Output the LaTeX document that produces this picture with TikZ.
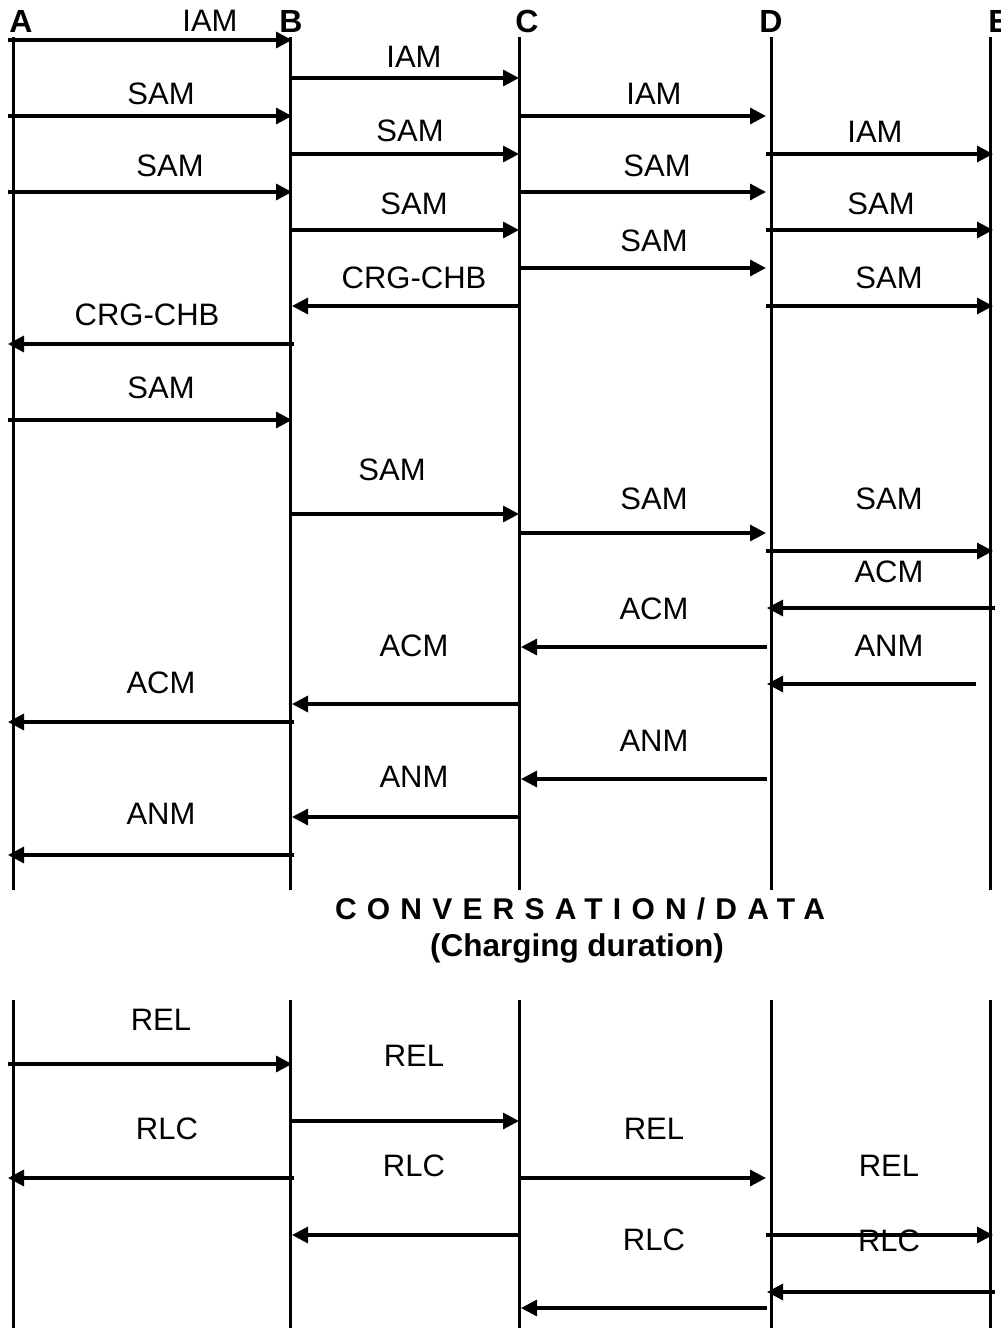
\documentclass[tikz,border=0pt]{standalone}
\usepackage{fontspec}
\setmainfont{Liberation Sans}
\usetikzlibrary{arrows.meta}
\tikzset{
  life/.style={line width=3pt},
  msgarrow/.style={line width=3.2pt, -{Triangle[length=16pt,width=16pt]}},
  lbl/.style={inner sep=0pt, font=\fontsize{31}{36}\selectfont},
  hdr/.style={inner sep=0pt, font=\fontsize{32}{36}\selectfont\bfseries},
  conv/.style={inner sep=0pt, anchor=base},
}
\newcommand\msg[7]{%
  \coordinate (#1s) at (#3,#2);
  \coordinate (#1e) at (#4,#2);
  \draw[msgarrow] (#1s) -- (#1e);
  \node[lbl] (#1l) at (#6,#7) {#5};}
\begin{document}
\begin{tikzpicture}[x=1pt,y=-1pt]
\useasboundingbox (0,0) rectangle (1001,1328);
% headers
\node[hdr] (hA) at (21,21) {A};
\node[hdr] (hB) at (291,21) {B};
\node[hdr] (hC) at (527,21) {C};
\node[hdr] (hD) at (771,21) {D};
\node[hdr] (hE) at (999,21) {E};
% lifelines
\foreach \n/\x in {A/13,B/290,C/519,D/771,E/990}{
  \coordinate (\n t1) at (\x,37);
  \coordinate (\n b1) at (\x,890);
  \coordinate (\n t2) at (\x,1000);
  \coordinate (\n b2) at (\x,1328);
  \draw[life] (\n t1) -- (\n b1);
  \draw[life] (\n t2) -- (\n b2);
}
% messages
\msg{m1}{40}{8}{292}{IAM}{210}{21}
\msg{m2}{78}{292}{519}{IAM}{414}{57}
\msg{m3}{116}{8}{292}{SAM}{161}{94}
\msg{m4}{116}{520}{766}{IAM}{654}{94}
\msg{m5}{154}{292}{519}{SAM}{410}{131}
\msg{m6}{154}{766}{993}{IAM}{875}{132}
\msg{m7}{192}{8}{292}{SAM}{170}{166}
\msg{m8}{192}{520}{766}{SAM}{657}{166}
\msg{m9}{230}{292}{519}{SAM}{414}{204}
\msg{m10}{230}{766}{993}{SAM}{881}{204}
\msg{m11}{268}{520}{766}{SAM}{654}{241}
\msg{m12}{306}{520}{292}{CRG-CHB}{414}{278}
\msg{m13}{306}{766}{993}{SAM}{889}{278}
\msg{m14}{344}{294}{8}{CRG-CHB}{147}{315}
\msg{m15}{420}{8}{292}{SAM}{161}{388}
\msg{m16}{514}{292}{519}{SAM}{392}{470}
\msg{m17}{533}{520}{766}{SAM}{654}{499}
\msg{m18}{551}{766}{993}{SAM}{889}{499}
\msg{m19}{608}{995}{767}{ACM}{889}{572}
\msg{m20}{647}{767}{521}{ACM}{654}{609}
\msg{m21}{684}{976}{767}{ANM}{889}{646}
\msg{m22}{704}{521}{292}{ACM}{414}{646}
\msg{m23}{722}{294}{8}{ACM}{161}{683}
\msg{m24}{779}{767}{521}{ANM}{654}{741}
\msg{m25}{817}{521}{292}{ANM}{414}{777}
\msg{m26}{855}{294}{8}{ANM}{161}{814}
\msg{m27}{1064}{8}{292}{REL}{161}{1020}
\msg{m28}{1121}{292}{519}{REL}{414}{1056}
\msg{m29}{1178}{294}{8}{RLC}{167}{1129}
\msg{m30}{1178}{520}{766}{REL}{654}{1129}
\msg{m31}{1235}{521}{292}{RLC}{414}{1166}
\msg{m32}{1235}{766}{993}{REL}{889}{1166}
\msg{m33}{1292}{995}{767}{RLC}{889}{1241}
\msg{m34}{1308}{767}{521}{RLC}{654}{1240}
% conversation
\node[conv, font=\fontsize{30}{32}\selectfont\bfseries\addfontfeature{LetterSpace=34}] (cv) at (580,919) {CONVERSATION/DATA};
\node[conv, font=\fontsize{31.5}{34}\selectfont\bfseries] (cd) at (577,956) {(Charging duration)};
\end{tikzpicture}
\end{document}
